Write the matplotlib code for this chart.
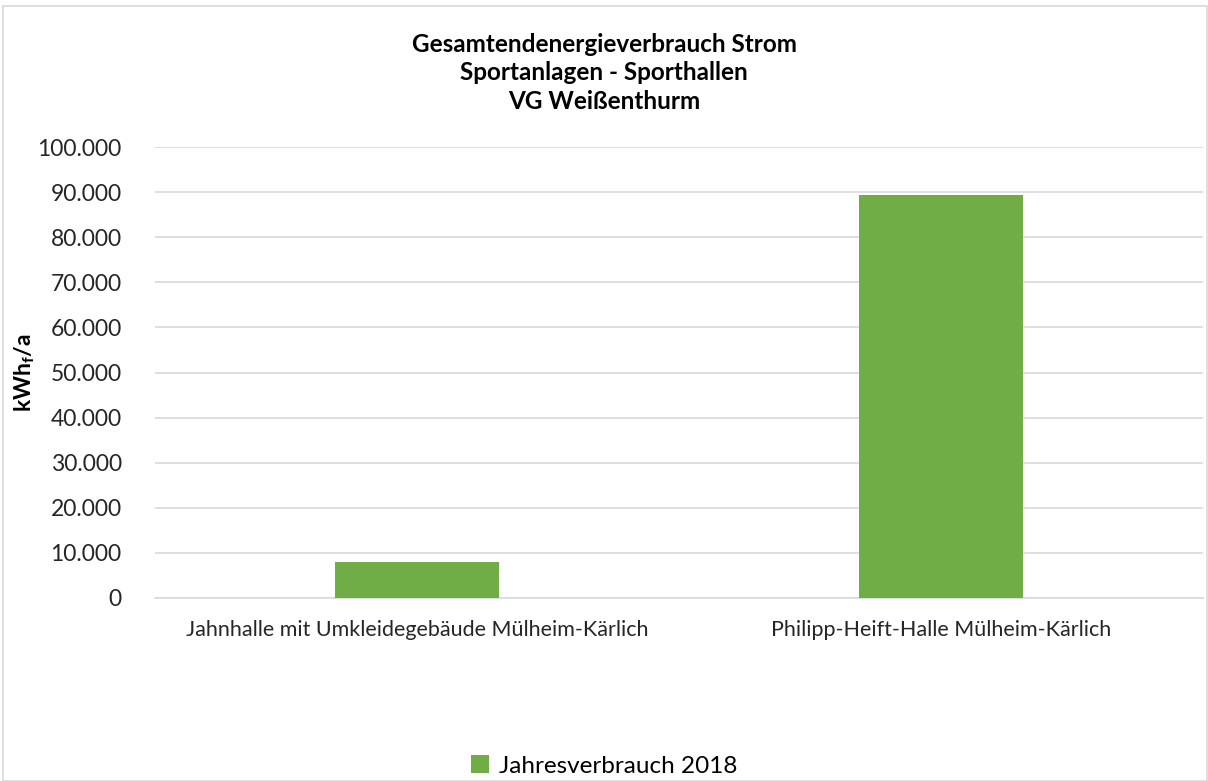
import matplotlib
matplotlib.use("Agg")
import matplotlib.pyplot as plt
from matplotlib.patches import Rectangle
from matplotlib.ticker import FuncFormatter

categories = ["Jahnhalle mit Umkleidegebäude Mülheim-Kärlich", "Philipp-Heift-Halle Mülheim-Kärlich"]
values = [8000, 89300]
series_name = "Jahresverbrauch 2018"
title_lines = ["Gesamtendenergieverbrauch Strom", "Sportanlagen - Sporthallen", "VG Weißenthurm"]
yticks = list(range(0, 100001, 10000))

plt.rcParams['font.family'] = ['Lato', 'DejaVu Sans']

fig = plt.figure(figsize=(12.08, 7.81), dpi=100)
ax = fig.add_axes([155/1208, 1-598/781, (1203-155)/1208, (598-147)/781])

x = list(range(len(categories)))
ax.bar(x, values, width=0.313, color="#70ad47", label=series_name, zorder=3)
ax.set_xlim(-0.5, len(categories)-0.5)
ax.set_ylim(0, 100000)
ax.set_yticks(yticks)
ax.yaxis.set_major_formatter(FuncFormatter(lambda v, p: f"{int(v):,}".replace(",", ".")))
ax.set_xticks(x)
ax.set_xticklabels(categories, fontsize=15.5, color="#262626")
ax.tick_params(axis='y', labelsize=16.5, colors="#262626", length=0, pad=24)
ax.tick_params(axis='x', length=0, pad=16)
ax.grid(axis='y', color="#d9d9d9", linewidth=1.2, zorder=0)
for s in ["top", "right", "left"]:
    ax.spines[s].set_visible(False)
ax.spines["bottom"].set_color("#d9d9d9")
ax.spines["bottom"].set_linewidth(1.2)

ax.set_ylabel("kWh$_\\mathregular{f}$/a", fontsize=16.5, fontweight="bold")
ax.yaxis.set_label_coords(-118/1048, 0.5)

fig.text(0.5, 1-73/781, "\n".join(title_lines), ha="center", va="center",
         fontsize=17.5, fontweight="bold", color="#000000", linespacing=1.3)

leg = fig.legend(loc="center", bbox_to_anchor=(0.5, 1-766/781), frameon=False,
                 fontsize=17.5, handlelength=0.75, handleheight=0.75, handletextpad=0.4)

fig.patches.append(Rectangle((3/1208, 0), 1-4/1208, 1-6/781, transform=fig.transFigure,
                             fill=False, edgecolor="#d9d9d9", linewidth=1.2))

fig.savefig("out.png", dpi=100, facecolor="white")
